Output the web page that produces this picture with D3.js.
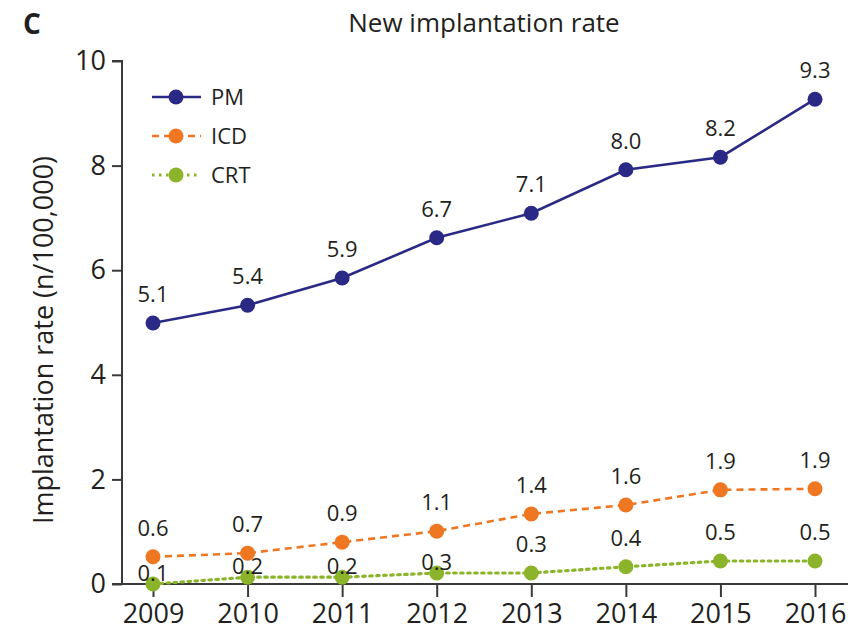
<!DOCTYPE html>
<html><head><meta charset="utf-8">
<script src="https://cdn.jsdelivr.net/npm/d3@7"></script>
<style>
html,body{margin:0;padding:0;background:#fff;}
svg text{font-family:"Open Sans",sans-serif;fill:#231f20;}
</style></head>
<body>
<svg id="chart" width="854" height="634"></svg>
<script>
const years = [2009, 2010, 2011, 2012, 2013, 2014, 2015, 2016];
const pmValues  = [4.99, 5.33, 5.85, 6.62, 7.09, 7.92, 8.16, 9.27];
const icdValues = [0.52, 0.59, 0.80, 1.01, 1.34, 1.51, 1.80, 1.82];
const crtValues = [0.00, 0.13, 0.13, 0.21, 0.21, 0.33, 0.44, 0.44];
const pmLabels  = ["5.1", "5.4", "5.9", "6.7", "7.1", "8.0", "8.2", "9.3"];
const icdLabels = ["0.6", "0.7", "0.9", "1.1", "1.4", "1.6", "1.9", "1.9"];
const crtLabels = ["0.1", "0.2", "0.2", "0.3", "0.3", "0.4", "0.5", "0.5"];
const yTicks = [0, 2, 4, 6, 8, 10];
const seriesNames = ["PM", "ICD", "CRT"];

const series = [
  {name: seriesNames[0], values: pmValues,  labels: pmLabels,  color: "#2a2a86", dash: null,  width: 2.6},
  {name: seriesNames[1], values: icdValues, labels: icdLabels, color: "#f07722", dash: "7,5", width: 2.6},
  {name: seriesNames[2], values: crtValues, labels: crtLabels, color: "#8cb42a", dash: "2.5,4.5", width: 3.2}
];

const svg = d3.select("#chart");
const x = d3.scalePoint().domain(years).range([153, 815]);
const y = d3.scaleLinear().domain([0, 10]).range([584, 61]);
const axisColor = "#3a3a3a";
const textFont = '"Open Sans",sans-serif';

// Y axis
const yAxis = svg.append("g").attr("transform", "translate(122,0)")
  .call(d3.axisLeft(y).tickValues(yTicks).tickSize(10).tickPadding(6).tickFormat(d3.format("d")));
yAxis.select(".domain").attr("d", `M-10,${y(10)}H0V${y(0)}`).attr("stroke", axisColor).attr("stroke-width", 2);
yAxis.selectAll(".tick line").attr("stroke", axisColor).attr("stroke-width", 2);
yAxis.selectAll(".tick text").attr("font-size", 27).attr("fill", "#231f20").style("font-family", textFont);

// X axis
const xAxis = svg.append("g").attr("transform", `translate(0,${y(0)})`)
  .call(d3.axisBottom(x).tickSize(13).tickPadding(7).tickFormat(d3.format("d")));
xAxis.select(".domain").attr("d", `M112,0H848`).attr("stroke", axisColor).attr("stroke-width", 2);
xAxis.selectAll(".tick line").attr("stroke", axisColor).attr("stroke-width", 2);
xAxis.selectAll(".tick text").attr("font-size", 27).attr("fill", "#231f20").style("font-family", textFont);

// Lines
const line = d3.line().x((d, i) => x(years[i])).y(d => y(d));
series.forEach(s => {
  svg.append("path").datum(s.values).attr("d", line)
    .attr("fill", "none").attr("stroke", s.color).attr("stroke-width", s.width)
    .attr("stroke-dasharray", s.dash).attr("stroke-linecap", s.dash && s.dash.startsWith("2.5") ? "round" : "butt");
});
// Points
series.forEach(s => {
  svg.append("g").selectAll("circle").data(s.values).join("circle")
    .attr("cx", (d, i) => x(years[i])).attr("cy", d => y(d)).attr("r", 7.5).attr("fill", s.color);
});
// Value labels (moved closer to own point if it would clash with another series' point)
series.forEach((s, si) => {
  svg.append("g").selectAll("text").data(s.values).join("text")
    .attr("x", (d, i) => x(years[i]))
    .attr("y", (d, i) => {
      let ly = y(d) - 21;
      const clash = series.some((o, oi) => oi !== si && Math.abs(y(o.values[i]) - (ly - 7)) < 16);
      if (clash) ly = y(d) - 3;
      return ly;
    })
    .attr("text-anchor", "middle").attr("font-size", 22)
    .text((d, i) => s.labels[i]);
});

// Legend
const legend = svg.append("g");
series.forEach((s, i) => {
  const ly = 97 + i * 39;
  legend.append("line").attr("x1", 152).attr("x2", 201).attr("y1", ly).attr("y2", ly)
    .attr("stroke", s.color).attr("stroke-width", s.width).attr("stroke-dasharray", s.dash);
  legend.append("circle").attr("cx", 176).attr("cy", ly).attr("r", 7.5).attr("fill", s.color);
  legend.append("text").attr("x", 211).attr("y", ly).attr("dy", "0.36em").attr("font-size", 22).text(s.name);
});

// Title, panel letter, y label
svg.append("text").attr("x", 484).attr("y", 32).attr("text-anchor", "middle").attr("font-size", 26).text("New implantation rate");
svg.append("text").attr("x", 23).attr("y", 34).attr("font-size", 28).attr("font-weight", "bold").text("C");
svg.append("text").attr("transform", "translate(53,340) rotate(-90)").attr("text-anchor", "middle")
  .attr("font-size", 27).text("Implantation rate (n/100,000)");
</script>
</body></html>
